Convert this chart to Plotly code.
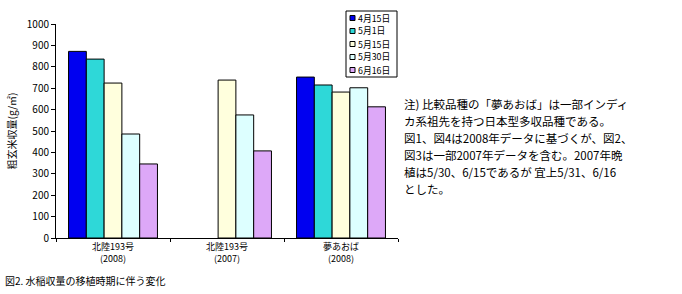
import plotly.graph_objects as go

categories = ["北陸193号<br>(2008)", "北陸193号<br>(2007)", "夢あおば<br>(2008)"]
series_names = ["4月15日", "5月1日", "5月15日", "5月30日", "6月16日"]
values = {
    "4月15日": [872, None, 752],
    "5月1日": [836, None, 715],
    "5月15日": [724, 738, 682],
    "5月30日": [486, 575, 702],
    "6月16日": [346, 407, 613],
}
colors = ["#0000F0", "#2ED8D8", "#FFFFDD", "#DDFFFF", "#DDA8F8"]
y_ticks = list(range(0, 1001, 100))
note_lines = [
    "注) 比較品種の「夢あおば」は一部インディ",
    "カ系祖先を持つ日本型多収品種である。",
    "図1、図4は2008年データに基づくが、図2、",
    "図3は一部2007年データを含む。2007年晩",
    "植は5/30、6/15であるが 宜上5/31、6/16",
    "とした。",
]
caption = "図2. 水稲収量の移植時期に伴う変化"

FONT = "Noto Sans CJK JP"
W, H = 682, 294
L, R, T, B = 56, 284, 24, 56
pw = W - L - R
ph = H - T - B

def px(x):
    return (x - L) / pw

def py(y):
    return (H - B - y) / ph

fig = go.Figure()
for name, col in zip(series_names, colors):
    fig.add_trace(go.Bar(
        x=categories, y=values[name], name=name,
        marker=dict(color=col, line=dict(color="black", width=1)),
    ))

shapes = [dict(type="rect", xref="paper", yref="paper",
               x0=px(346), x1=px(397), y0=py(77), y1=py(11),
               line=dict(color="black", width=1), fillcolor="white", layer="above")]
annotations = []
for i, (name, col) in enumerate(zip(series_names, colors)):
    yc = 18 + 13 * i
    shapes.append(dict(type="rect", xref="paper", yref="paper",
                       x0=px(350), x1=px(355), y0=py(yc + 2.5), y1=py(yc - 2.5),
                       line=dict(color="black", width=1), fillcolor=col, layer="above"))
    annotations.append(dict(text=name, xref="paper", yref="paper", x=px(356), y=py(yc),
                            xanchor="left", yanchor="middle", showarrow=False,
                            font=dict(size=8.8, family=FONT)))
for i, line in enumerate(note_lines):
    annotations.append(dict(text=line, xref="paper", yref="paper", x=px(402), y=py(104.5 + 16.8 * i),
                            xanchor="left", yanchor="middle", showarrow=False, align="left",
                            font=dict(size=11.5, family=FONT)))
annotations.append(dict(text=caption, xref="paper", yref="paper", x=px(3), y=py(280),
                        xanchor="left", yanchor="middle", showarrow=False, align="left",
                        font=dict(size=10, family=FONT)))

fig.update_layout(
    width=W, height=H,
    margin=dict(l=L, r=R, t=T, b=B),
    paper_bgcolor="white", plot_bgcolor="white",
    barmode="group", bargap=0.22, bargroupgap=0,
    font=dict(family=FONT, size=9, color="black"),
    showlegend=False,
    xaxis=dict(
        showline=True, linecolor="black", linewidth=1,
        ticks="outside", tickson="boundaries", ticklen=3, tickcolor="black",
        showgrid=False, tickfont=dict(size=9, family=FONT),
    ),
    yaxis=dict(
        range=[0, 1000], tickvals=y_ticks, showline=True, linecolor="black",
        linewidth=1, ticks="outside", ticklen=4, tickcolor="black",
        showgrid=False, zeroline=False, tickfont=dict(size=10, family=FONT),
        title=dict(text="粗玄米収量(g/㎡)", font=dict(size=10, family=FONT), standoff=8),
    ),
    shapes=shapes,
    annotations=annotations,
)
fig.write_html("out.html")
